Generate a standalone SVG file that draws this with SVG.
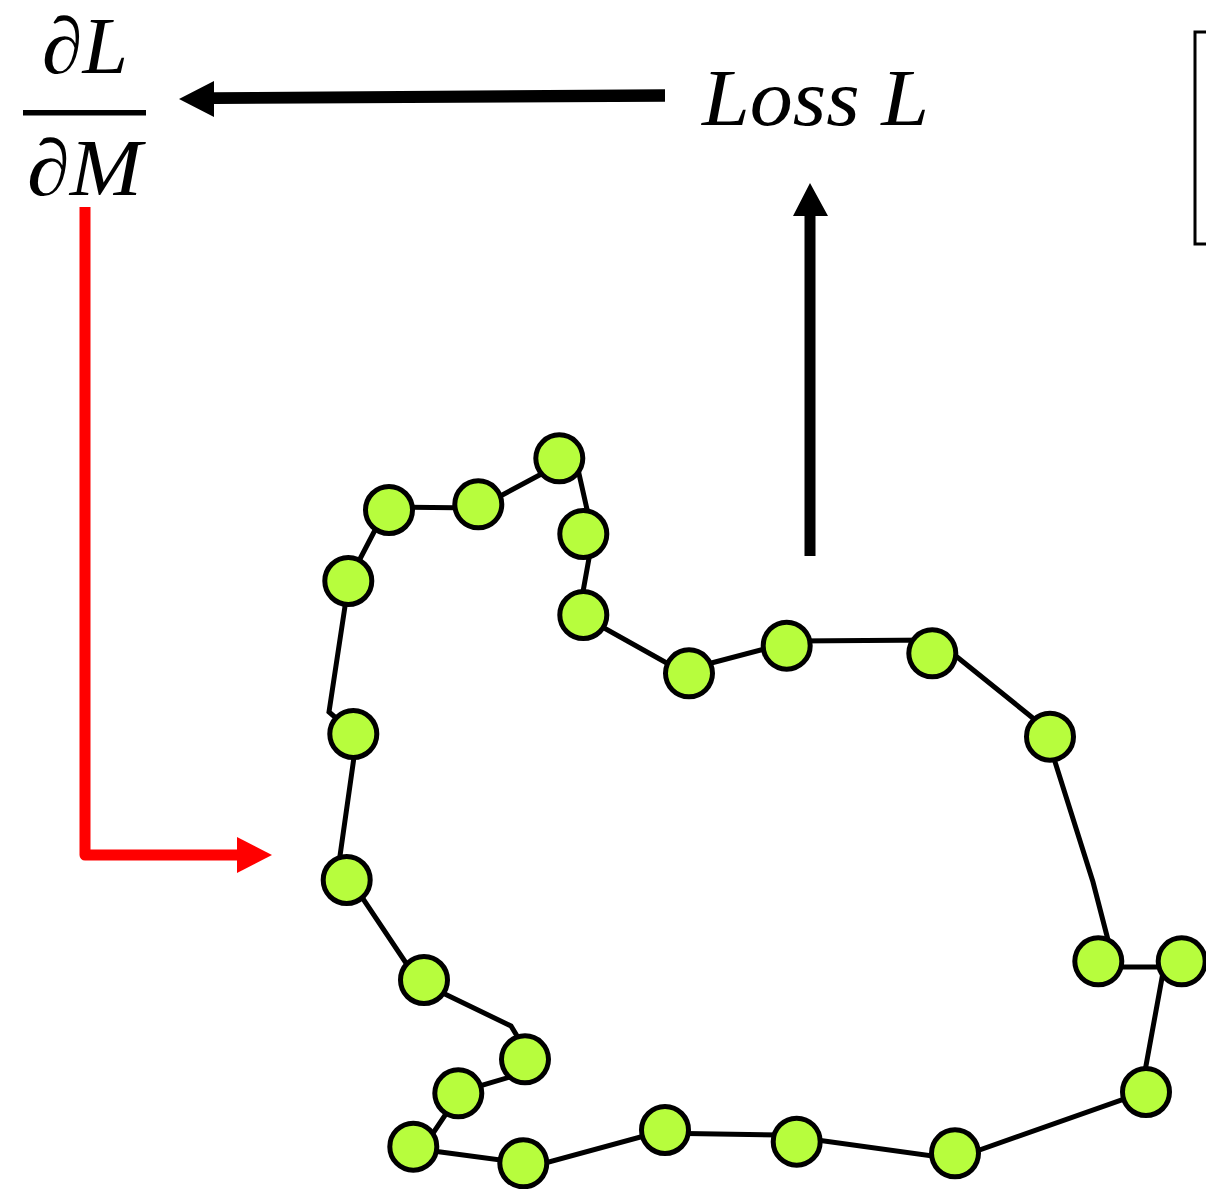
<svg xmlns="http://www.w3.org/2000/svg" width="1206" height="1189" viewBox="0 0 1206 1189">
<style>
.math{font-family:"Liberation Serif","DejaVu Serif",serif;font-style:italic;fill:#000}
.node{fill:#b7fd3d;stroke:#000;stroke-width:5}
.chain{fill:none;stroke:#000;stroke-width:5;stroke-linejoin:miter}
</style>
<rect width="1206" height="1189" fill="#fff"/>
<g id="gradient-label">
<text class="math" x="42" y="73" font-size="80" textLength="86" lengthAdjust="spacingAndGlyphs">∂L</text>
<rect x="23" y="110" width="123" height="5.5" fill="#000"/>
<text class="math" x="27" y="195" font-size="80" textLength="115" lengthAdjust="spacingAndGlyphs">∂M</text>
</g>
<g id="loss-label">
<text class="math" x="702" y="125" font-size="80" textLength="227" lengthAdjust="spacingAndGlyphs">Loss L</text>
</g>
<g id="bracket">
<path d="M1206,32 H1195 V244 H1206" fill="none" stroke="#000" stroke-width="3"/>
</g>
<g id="connectors">
<path d="M665,89.3 L214,92.3 L214,81 L179,99 L214,117 L214,104 L665,101.7 Z" fill="#000"/>
<path d="M804.5,556 V216 H793 L810,183 L828,216 H815.5 V556 Z" fill="#000"/>
<path d="M85,207 V855 H240" fill="none" stroke="#ff0000" stroke-width="11" stroke-linejoin="round"/>
<path d="M237,837 L272,855 L237,873 Z" fill="#ff0000"/>
<path class="chain" d="M349,580 L387,507 L478,508 L575,456 L593,536 L579,614 L681,671 L795,641 L936,640 L1044,727 L1093,882 L1115,967 L1164,967 L1141,1093 L954,1159 L781,1135 L655,1133 L538,1165 L422,1149.5 L461,1091.5 L537,1069 L511,1026 L418,981 L339,863 L357,736 L329,712 Z"/>
</g>
<g id="nodes">
<circle id="n1" class="node" cx="348.3" cy="581" r="23.5"/>
<circle id="n2" class="node" cx="389" cy="510" r="23.5"/>
<circle id="n3" class="node" cx="478.3" cy="504.3" r="23.5"/>
<circle id="n4" class="node" cx="559.3" cy="458.3" r="23.5"/>
<circle id="n5" class="node" cx="583.3" cy="534" r="23.5"/>
<circle id="n6" class="node" cx="583.3" cy="615" r="23.5"/>
<circle id="n7" class="node" cx="689" cy="673.3" r="23.5"/>
<circle id="n8" class="node" cx="786.7" cy="645.7" r="23.5"/>
<circle id="n9" class="node" cx="932.3" cy="653.3" r="23.5"/>
<circle id="n10" class="node" cx="1050" cy="736.7" r="23.5"/>
<circle id="n11" class="node" cx="1098.3" cy="961.3" r="23.5"/>
<circle id="n12" class="node" cx="1181.7" cy="961.3" r="23.5"/>
<circle id="n13" class="node" cx="1146" cy="1092" r="23.5"/>
<circle id="n14" class="node" cx="955" cy="1153.3" r="23.5"/>
<circle id="n15" class="node" cx="796.7" cy="1141.7" r="23.5"/>
<circle id="n16" class="node" cx="665" cy="1130" r="23.5"/>
<circle id="n17" class="node" cx="523.3" cy="1163.3" r="23.5"/>
<circle id="n18" class="node" cx="413.3" cy="1146.7" r="23.5"/>
<circle id="n19" class="node" cx="458.3" cy="1093.3" r="23.5"/>
<circle id="n20" class="node" cx="525" cy="1059.3" r="23.5"/>
<circle id="n21" class="node" cx="424" cy="980" r="23.5"/>
<circle id="n22" class="node" cx="346.7" cy="880" r="23.5"/>
<circle id="n23" class="node" cx="353.3" cy="734" r="23.5"/>
</g>
</svg>
